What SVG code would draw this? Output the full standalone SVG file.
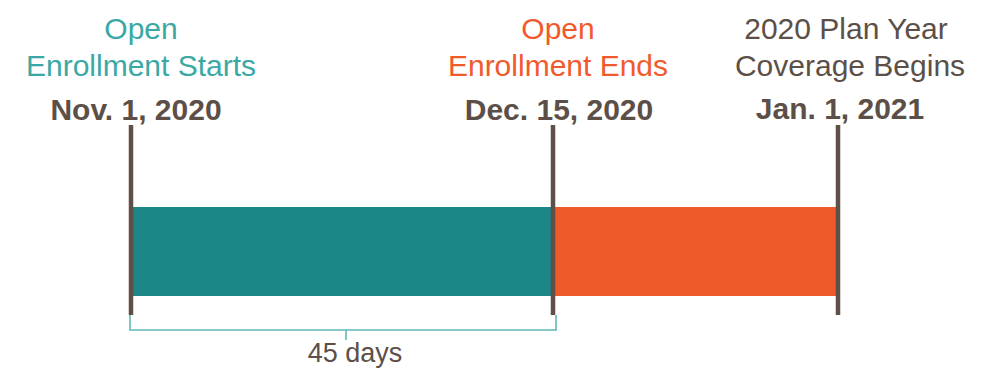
<svg xmlns="http://www.w3.org/2000/svg" width="985" height="371" viewBox="0 0 985 371">
<style>
.lbl{font-family:"Liberation Sans",Arial,sans-serif;font-size:30px;text-anchor:middle}
.date{font-family:"Liberation Sans",Arial,sans-serif;font-size:30px;font-weight:bold;text-anchor:middle;fill:#5C4F48}
.teal{fill:#3AA8A4}
.orange{fill:#F15A2B}
.gray{fill:#5C4F48}
.mark{stroke:#5E4F47;stroke-width:4.5;fill:none}
.br{stroke:#5DB9B6;stroke-width:1.6;fill:none}
</style>
<rect width="985" height="371" fill="#FFFFFF"/>
<g id="bars">
<rect id="bar-enrollment" x="132" y="207" width="421" height="89" fill="#1D8787"/>
<rect id="bar-gap" x="553" y="207" width="284" height="89" fill="#F05A2A"/>
</g>
<g id="start">
<text class="lbl teal" x="141" y="39">Open</text>
<text class="lbl teal" x="141" y="76">Enrollment Starts</text>
<text class="date" x="136" y="120">Nov. 1, 2020</text>
<line class="mark" x1="131" y1="125" x2="131" y2="315"/>
</g>
<g id="end">
<text class="lbl orange" x="558" y="39">Open</text>
<text class="lbl orange" x="558" y="76">Enrollment Ends</text>
<text class="date" x="559" y="120">Dec. 15, 2020</text>
<line class="mark" x1="553" y1="125" x2="553" y2="315"/>
</g>
<g id="coverage">
<text class="lbl gray" x="846" y="39">2020 Plan Year</text>
<text class="lbl gray" x="850" y="76">Coverage Begins</text>
<text class="date" x="840" y="119">Jan. 1, 2021</text>
<line class="mark" x1="838" y1="125" x2="838" y2="315"/>
</g>
<g id="connectors">
<path class="br" d="M130 315 V330 H556 V315 M346 330 V340"/>
</g>
<g id="duration">
<text x="355" y="362" font-family="Liberation Sans,Arial,sans-serif" font-size="27" text-anchor="middle" fill="#5C4F48">45 days</text>
</g>
</svg>
